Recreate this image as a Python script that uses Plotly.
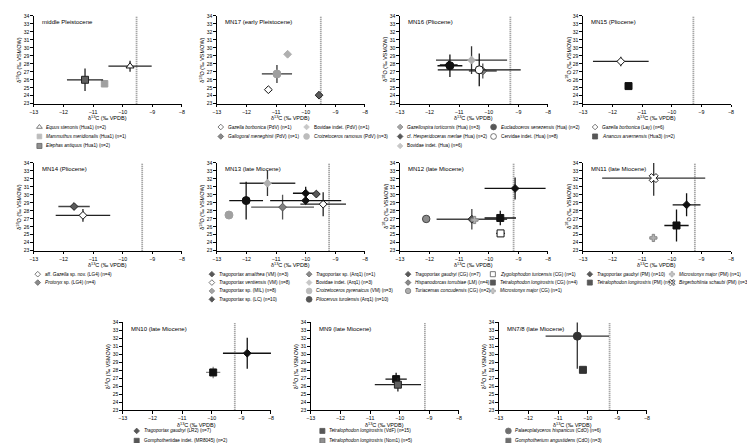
import plotly.graph_objects as go

# ---------------- data ----------------
PANEL_TITLES = ["middle Pleistocene", "MN17 (early Pleistocene)", "MN16 (Pliocene)", "MN15 (Pliocene)",
                "MN14 (Pliocene)", "MN13 (late Miocene)", "MN12 (late Miocene)", "MN11 (late Miocene)",
                "MN10 (late Miocene)", "MN9 (late Miocene)", "MN7/8 (late Miocene)"]
THRESHOLD = [-9.53, -9.49, -9.27, -9.27, -9.34, -9.21, -9.16, -9.22, -9.22, -9.15, -9.26]
X_TICKS = [-13, -12, -11, -10, -9, -8]
Y_TICKS = list(range(23, 35))
X_TITLE = "δ<sup>13</sup>C (‰ VPDB)"
Y_TITLE = "δ<sup>18</sup>O (‰ VSMOW)"

P1_taxa = ["<i>Equus stenonis</i> (Hua1) (n=2)", "<i>Mammuthus meridionalis</i> (Hua1) (n=1)",
           "<i>Elephas antiquus</i> (Hua1) (n=2)"]
P1_d13c = [-9.75, -10.61, -11.27]
P1_d13c_sd = [0.73, 0, 0.61]
P1_d18o = [27.7, 25.5, 26.0]
P1_d18o_sd = [0.7, 0, 1.4]

P2_taxa = ["<i>Gazella borbonica</i> (PdV) (n=1)", "<i>Gallogoral meneghinii</i> (PdV) (n=1)",
           "Bovidae indet. (PdV) (n=1)", "<i>Croizetoceros ramosus</i> (PdV) (n=3)"]
P2_d13c = [-11.26, -9.55, -10.61, -10.97]
P2_d13c_sd = [0, 0, 0, 0.51]
P2_d18o = [24.76, 24.07, 29.2, 26.73]
P2_d18o_sd = [0, 0, 0, 1.13]

P3_taxa = ["<i>Gazellospira torticornis</i> (Hua) (n=3)", "cf. <i>Hesperidoceras merlae</i> (Hua) (n=2)",
           "Bovidae indet. (Hua) (n=6)", "<i>Eucladoceros senezensis</i> (Hua) (n=2)",
           "Cervidae indet. (Hua) (n=8)"]
P3_d13c = [-10.2, -11.35, -10.58, -11.31, -10.32]
P3_d13c_sd = [0.47, 0.3, 1.2, 0.42, 1.4]
P3_d18o = [27.1, 27.85, 28.46, 27.76, 27.25]
P3_d18o_sd = [0.95, 0.55, 1.75, 1.4, 2.05]

P4_taxa = ["<i>Gazella borbonica</i> (Lay) (n=6)", "<i>Anancus arvernensis</i> (Hua3) (n=2)"]
P4_d13c = [-11.72, -11.46]
P4_d13c_sd = [0.94, 0]
P4_d18o = [28.3, 25.21]
P4_d18o_sd = [0.6, 0]

P5_taxa = ["aff. <i>Gazella</i> sp. nov. (LG4) (n=4)", "<i>Protoryx</i> sp. (LG4) (n=4)"]
P5_d13c = [-11.34, -11.64]
P5_d13c_sd = [0.92, 0.53]
P5_d18o = [27.43, 28.54]
P5_d18o_sd = [0.8, 0.3]

P6_taxa = ["<i>Tragoportax amalthea</i> (VM) (n=3)", "<i>Tragoportax ventiensis</i> (VM) (n=8)",
           "<i>Tragoportax</i> sp. (MIL) (n=8)", "<i>Tragoportax</i> sp. (LC) (n=10)",
           "<i>Tragoportax</i> sp. (Arq1) (n=1)", "Bovidae indet. (Arq1) (n=3)",
           "<i>Croizetoceros pyrenaicus</i> (VM) (n=3)", "<i>Pliocervus turolensis</i> (Arq1) (n=10)"]
P6_d13c = [-10.0, -9.41, -10.78, -10.0, -9.64, -11.29, -12.59, -12.01]
P6_d13c_sd = [0.43, 0.77, 1.06, 1.2, 0, 0.94, 0, 0.57]
P6_d18o = [30.2, 28.83, 28.46, 29.28, 30.1, 31.45, 27.47, 29.28]
P6_d18o_sd = [0.8, 1.5, 1.54, 0.3, 0, 1.6, 0, 2.36]

P7_taxa = ["<i>Tragoportax gaudryi</i> (CG) (n=7)", "<i>Hispanodorcas torrubiae</i> (LM) (n=4)",
           "<i>Turiacemas concudensis</i> (CG) (n=2)", "<i>Zygolophodon turicensis</i> (CG) (n=1)",
           "<i>Tetralophodon longirostris</i> (CG) (n=4)", "<i>Microstonyx major</i> (CG) (n=1)"]
P7_d13c = [-9.11, -10.57, -12.11, -9.6, -9.61, -10.48]
P7_d13c_sd = [1.03, 1.19, 0, 0.15, 0.53, 0]
P7_d18o = [30.8, 26.94, 26.98, 25.17, 27.1, 26.85]
P7_d18o_sd = [1.37, 1.27, 0, 0, 0.9, 0]

P8_taxa = ["<i>Tragoportax gaudryi</i> (PM) (n=10)", "<i>Tetralophodon longirostris</i> (PM) (n=3)",
           "<i>Microstonyx major</i> (PM) (n=1)", "<i>Birgerbohlinia schaubi</i> (PM) (n=3)"]
P8_d13c = [-9.5, -9.84, -10.62, -10.61]
P8_d13c_sd = [0.47, 0.41, 0, 1.74]
P8_d18o = [28.75, 26.16, 24.6, 32.1]
P8_d18o_sd = [1.44, 2.0, 0, 2.2]

P9_taxa = ["<i>Tragoportax gaudryi</i> (LR2) (n=7)", "Gomphotheriidae indet. (MR8045) (n=2)"]
P9_d13c = [-8.8, -9.95]
P9_d13c_sd = [0.82, 0.24]
P9_d18o = [30.14, 27.73]
P9_d18o_sd = [1.95, 0.73]

P10_taxa = ["<i>Tetralophodon longirostris</i> (VdF) (n=15)", "<i>Tetralophodon longirostris</i> (Nom1) (n=5)"]
P10_d13c = [-10.12, -10.06]
P10_d13c_sd = [0.36, 0.78]
P10_d18o = [26.9, 26.2]
P10_d18o_sd = [0.8, 0.87]

P11_taxa = ["<i>Palaeoplatyceros hispanicus</i> (CdO) (n=6)", "<i>Gomphotherium angustidens</i> (CdO) (n=3)"]
P11_d13c = [-10.35, -10.16]
P11_d13c_sd = [1.07, 0.11]
P11_d18o = [32.28, 28.06]
P11_d18o_sd = [4.09, 0.1]

# ---------------- styles (symbol, fill, outline, size, error colour) ----------------
BLK_D = ("diamond", "#111111", "#111111", 6, "#111111")
WHT_D = ("diamond", "white", "#111111", 6, "#222222")
DGR_D = ("diamond", "#5a5a5a", "#222222", 6, "#444444")
MGR_D = ("diamond", "#808080", "#555555", 6, "#555555")
LGR_D = ("diamond", "#b0b0b0", "#b0b0b0", 6, "#333333")
BLK_C = ("circle", "#111111", "#111111", 8, "#111111")
WHT_C = ("circle", "white", "#111111", 8, "#111111")
GRY_C = ("circle", "#a0a0a0", "#a0a0a0", 8, "#333333")
BLK_S = ("square", "#111111", "#111111", 7, "#111111")
WHT_S = ("square", "white", "#111111", 7, "#333333")
DGR_S = ("square", "#606060", "#222222", 7, "#222222")
LGR_S = ("square", "#a0a0a0", "#a0a0a0", 6.5, "#555555")
WHT_T = ("triangle-up", "white", "#111111", 7, "#222222")
GRY_P = ("cross", "#b0b0b0", "#888888", 6, "#888888")
WHT_X = ("x", "white", "#222222", 8, "#333333")

P_STYLES = [
    [WHT_T, LGR_S, DGR_S],
    [WHT_D, DGR_D, LGR_D, GRY_C],
    [MGR_D, BLK_D, LGR_D, BLK_C, WHT_C],
    [WHT_D, BLK_S],
    [WHT_D, DGR_D],
    [BLK_D, WHT_D, MGR_D, BLK_D, DGR_D, LGR_D, GRY_C, BLK_C],
    [BLK_D, DGR_D, ("circle", "#8c8c8c", "#444444", 7.5, "#444"), WHT_S, BLK_S, GRY_P],
    [BLK_D, BLK_S, GRY_P, WHT_X],
    [BLK_D, ("square", "#111111", "#111111", 7, "#888888")],
    [BLK_S, DGR_S],
    [("circle", "#333333", "#333333", 8, "#333333"), ("square", "#333333", "#333333", 7, "#333333")],
]

PANELS = [
    (P1_taxa, P1_d13c, P1_d13c_sd, P1_d18o, P1_d18o_sd),
    (P2_taxa, P2_d13c, P2_d13c_sd, P2_d18o, P2_d18o_sd),
    (P3_taxa, P3_d13c, P3_d13c_sd, P3_d18o, P3_d18o_sd),
    (P4_taxa, P4_d13c, P4_d13c_sd, P4_d18o, P4_d18o_sd),
    (P5_taxa, P5_d13c, P5_d13c_sd, P5_d18o, P5_d18o_sd),
    (P6_taxa, P6_d13c, P6_d13c_sd, P6_d18o, P6_d18o_sd),
    (P7_taxa, P7_d13c, P7_d13c_sd, P7_d18o, P7_d18o_sd),
    (P8_taxa, P8_d13c, P8_d13c_sd, P8_d18o, P8_d18o_sd),
    (P9_taxa, P9_d13c, P9_d13c_sd, P9_d18o, P9_d18o_sd),
    (P10_taxa, P10_d13c, P10_d13c_sd, P10_d18o, P10_d18o_sd),
    (P11_taxa, P11_d13c, P11_d13c_sd, P11_d18o, P11_d18o_sd),
]

# legend columns (indices of taxa per column)
LEG_COLS = [[[0, 1, 2]], [[0, 1], [2, 3]], [[0, 1, 2], [3, 4]], [[0, 1]], [[0, 1]],
            [[0, 1, 2, 3], [4, 5, 6, 7]], [[0, 1, 2], [3, 4, 5]], [[0, 1], [2, 3]],
            [[0, 1]], [[0, 1]], [[0, 1]]]

# ---------------- layout geometry (pixels) ----------------
W, H = 755, 443
FONT = "Liberation Sans, Arial, sans-serif"
AX_LEFT = [21, 206, 391, 576, 21, 206, 391, 576, 111, 301, 491]
AX_W = 149.7
ROW_TOP = [5, 154, 315.7]
AX_H = 89.0
PANEL_ROW = [0, 0, 0, 0, 1, 1, 1, 1, 2, 2, 2]
LEG_COL_X = [[26.7], [210, 296.7], [391.3, 485.7], [588.3], [25], [201, 299.3], [399.3, 485],
             [583, 666], [125], [312.7], [500.7]]
LEG_ROW0 = [117.6, 266.8, 425.7]
LEG_DY = [9.6, 8.5, 10.0]

fig = go.Figure()
axes = {}
shapes = []
anns = []

for i, (taxa, xs, xsd, ys, ysd) in enumerate(PANELS):
    n = i + 1
    xa = "x" if n == 1 else f"x{n}"
    ya = "y" if n == 1 else f"y{n}"
    left = AX_LEFT[i]
    top = ROW_TOP[PANEL_ROW[i]]
    axes["xaxis" if n == 1 else f"xaxis{n}"] = dict(
        domain=[left / W, (left + AX_W) / W], anchor=ya, range=[-13, -8], tickvals=X_TICKS,
        showline=True, linecolor="black", linewidth=1, ticks="outside", ticklen=2.5, tickwidth=1,
        tickcolor="black", showgrid=False, zeroline=False, tickfont=dict(size=5.3, color="black"))
    axes["yaxis" if n == 1 else f"yaxis{n}"] = dict(
        domain=[1 - (top + AX_H) / H, 1 - top / H], anchor=xa, range=[23, 34], tickvals=Y_TICKS,
        showline=True, linecolor="black", linewidth=1, ticks="outside", ticklen=2.5, tickwidth=1,
        tickcolor="black", showgrid=False, zeroline=False, tickfont=dict(size=5.0, color="black"))
    shapes.append(dict(type="line", xref=xa, yref=f"{ya} domain", x0=THRESHOLD[i], x1=THRESHOLD[i],
                       y0=0, y1=1, line=dict(color="#8a8a8a", width=1.8, dash="1px,1px"), layer="below"))
    for j, name in enumerate(taxa):
        sym, fill, edge, size, ecol = P_STYLES[i][j]
        fig.add_trace(go.Scatter(
            x=[xs[j]], y=[ys[j]], mode="markers", xaxis=xa, yaxis=ya, showlegend=False, name=name,
            cliponaxis=False,
            marker=dict(symbol=sym, size=size, color=fill, line=dict(color=edge, width=1)),
            error_x=dict(type="data", array=[xsd[j]], width=0, thickness=1.3, color=ecol, visible=xsd[j] > 0),
            error_y=dict(type="data", array=[ysd[j]], width=0, thickness=1.3, color=ecol, visible=ysd[j] > 0)))
    # panel title
    anns.append(dict(text=PANEL_TITLES[i], xref=f"{xa} domain", yref=f"{ya} domain", x=0.04, y=0.985,
                     xanchor="left", yanchor="top", showarrow=False, font=dict(size=6, color="black")))
    # axis titles
    anns.append(dict(text=X_TITLE, xref="paper", yref="paper", x=(left + AX_W / 2) / W,
                     y=1 - (top + AX_H + 14.5) / H, xanchor="center", yanchor="middle", showarrow=False,
                     font=dict(size=5.5, color="black")))
    anns.append(dict(text=Y_TITLE, xref="paper", yref="paper", x=(left - 15) / W,
                     y=1 - (top + AX_H / 2) / H, xanchor="center", yanchor="middle", textangle=-90,
                     showarrow=False, font=dict(size=5.5, color="black")))
    # legend
    r = PANEL_ROW[i]
    kx, ky, ksym, kfill, kedge, ksize = [], [], [], [], [], []
    for c, col in enumerate(LEG_COLS[i]):
        cx = LEG_COL_X[i][c]
        for k, j in enumerate(col):
            cy = LEG_ROW0[r] + k * LEG_DY[r]
            sym, fill, edge, size, ecol = P_STYLES[i][j]
            kx.append(cx); ky.append(cy); ksym.append(sym); kfill.append(fill); kedge.append(edge)
            ksize.append(size * 0.72)
            anns.append(dict(text=taxa[j], xref="paper", yref="paper", x=(cx + 5.0) / W, y=1 - cy / H,
                             xanchor="left", yanchor="middle", showarrow=False,
                             font=dict(size=4.7, color="black")))
    fig.add_trace(go.Scatter(x=kx, y=ky, mode="markers", xaxis="x12", yaxis="y12", showlegend=False,
                             cliponaxis=False, hoverinfo="skip",
                             marker=dict(symbol=ksym, size=ksize, color=kfill,
                                         line=dict(color=kedge, width=0.8))))

axes["xaxis12"] = dict(domain=[0, 1], range=[0, W], visible=False, anchor="y12", fixedrange=True)
axes["yaxis12"] = dict(domain=[0, 1], range=[H, 0], visible=False, anchor="x12", fixedrange=True)

fig.update_layout(width=W, height=H, margin=dict(l=0, r=0, t=0, b=0), paper_bgcolor="white",
                  plot_bgcolor="rgba(0,0,0,0)", font=dict(family=FONT, color="black"),
                  shapes=shapes, annotations=anns, showlegend=False, **axes)
fig.write_html("out.html")
